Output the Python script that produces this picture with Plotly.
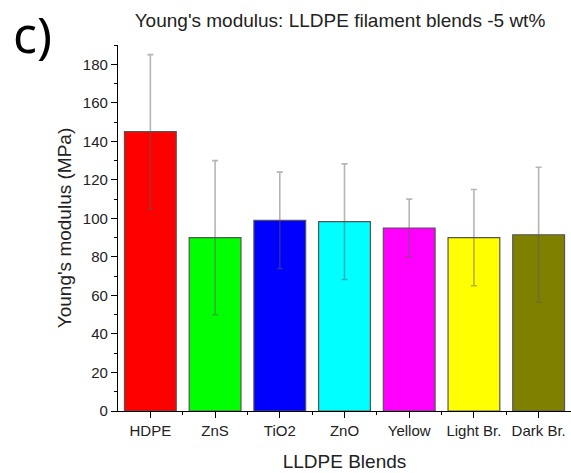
import plotly.graph_objects as go

categories = ["HDPE", "ZnS", "TiO2", "ZnO", "Yellow", "Light Br.", "Dark Br."]
modulus = [145, 90, 99, 98.3, 95, 90, 91.5]
errors = [40, 40, 25, 30, 15, 25, 35]
colors = ["#FF0000", "#00FF00", "#0000FF", "#00FFFF", "#FF00FF", "#FFFF00", "#808000"]
y_ticks = [0, 20, 40, 60, 80, 100, 120, 140, 160, 180]

x_idx = list(range(len(categories)))

fig = go.Figure()
fig.add_trace(go.Bar(
    x=x_idx, y=modulus,
    marker=dict(color=colors, line=dict(color="#555555", width=1.2)),
    error_y=dict(type="data", array=errors, visible=True,
                 color="rgba(90,90,90,0.45)", thickness=1.6, width=3),
    width=0.8,
))

font = "Liberation Sans, Arial, sans-serif"
W, H = 571, 473
L, T, B = 118, 45, 62
PW, PH = W - L, H - T - B
fig.update_layout(
    width=W, height=H,
    margin=dict(l=L, r=0, t=T, b=B),
    paper_bgcolor="white", plot_bgcolor="white",
    showlegend=False,
    font=dict(family=font, color="#222222"),
    title=dict(text="Young's modulus: LLDPE filament blends -5 wt%",
               x=340 / W, xanchor="center", y=1 - 20 / H, yanchor="middle",
               font=dict(size=19, family=font, color="#222222")),
    annotations=[dict(text="c)", x=(11 - L) / PW, y=1 + (T - 34) / PH, xref="paper", yref="paper",
                      xanchor="left", yanchor="middle", showarrow=False,
                      font=dict(size=50, family="Noto Sans, sans-serif", color="black"))],
)
fig.update_xaxes(
    range=[-0.5, 6.5], tickvals=x_idx, ticktext=categories,
    showline=True, linecolor="black", linewidth=1.2,
    ticks="outside", ticklen=6, tickcolor="black",
    minor=dict(tickvals=[i + 0.5 for i in x_idx[:-1]], ticks="outside", ticklen=3, tickcolor="black"),
    showgrid=False, zeroline=False,
    tickfont=dict(size=15, family=font, color="#222222"),
    title=dict(text="LLDPE Blends", font=dict(size=19, family=font, color="#222222"), standoff=16),
)
fig.update_yaxes(
    range=[0, 190], tickvals=y_ticks,
    showline=True, linecolor="black", linewidth=1.2,
    ticks="outside", ticklen=6, tickcolor="black",
    minor=dict(dtick=10, ticks="outside", ticklen=3, tickcolor="black"),
    showgrid=False, zeroline=False,
    tickfont=dict(size=15, family=font, color="#222222"),
    title=dict(text="Young's modulus (MPa)", font=dict(size=19, family=font, color="#222222"), standoff=6),
)

fig.write_html("out.html", config={"displayModeBar": False},
               post_script="document.body.style.margin='0';document.body.style.overflow='hidden';")
